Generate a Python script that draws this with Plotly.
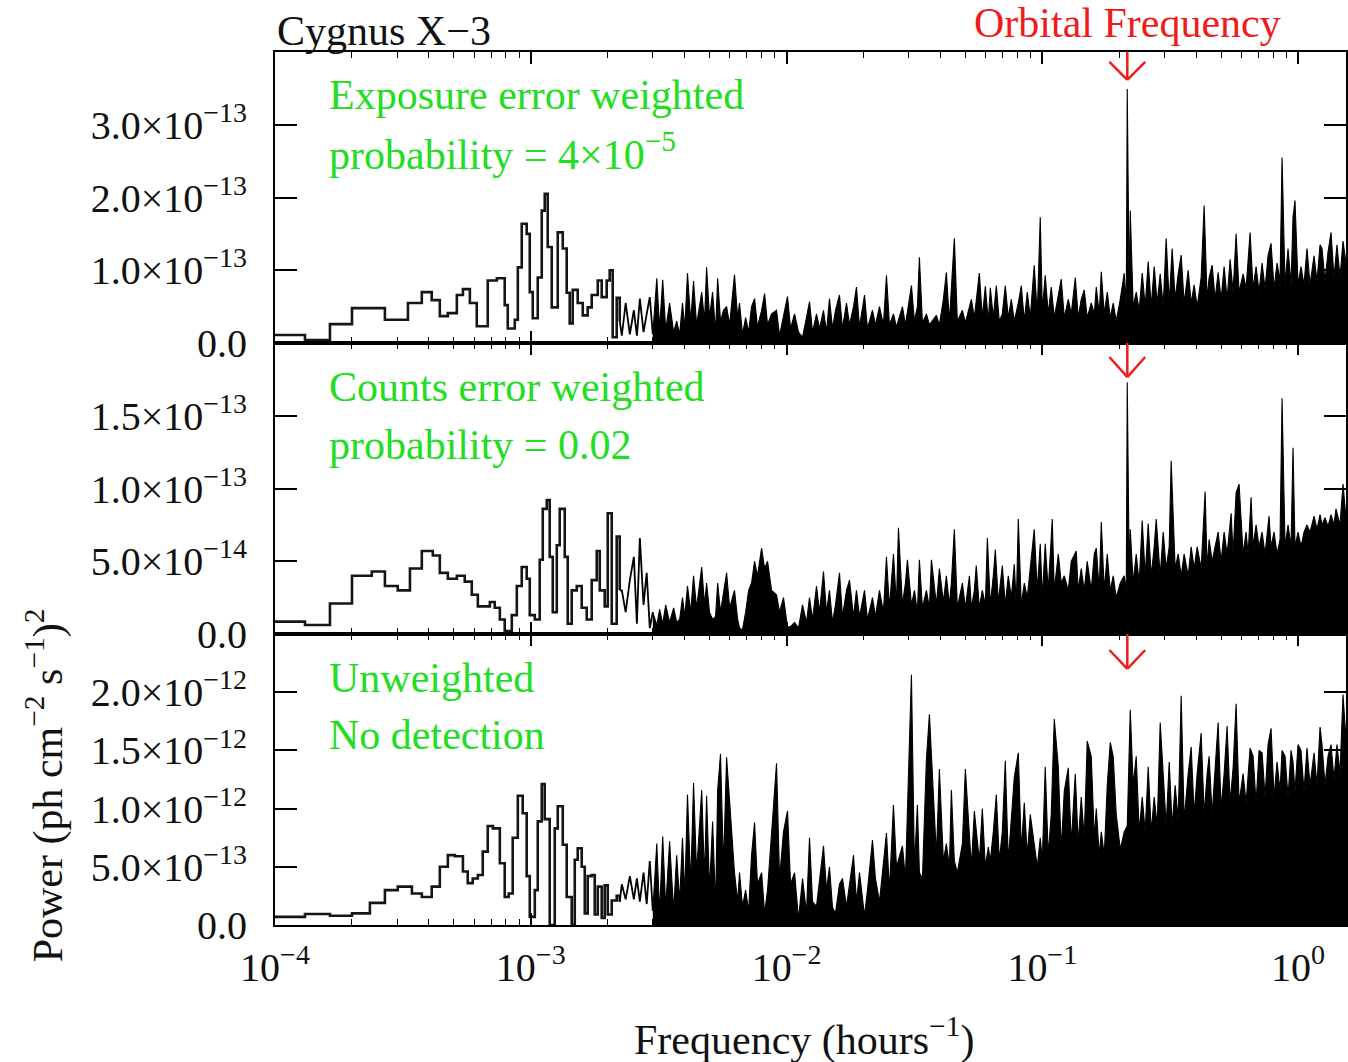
import math
import plotly.graph_objects as go

# ---------------- DATA ----------------
# Frequencies in hours^-1; powers in units of 1e-13 (top, middle) and 1e-12 (bottom)
orbital_freq = 0.215

top_step_freq = [1.00e-4, 1.31e-4, 1.64e-4, 2.00e-4, 2.69e-4, 3.31e-4, 3.75e-4, 4.10e-4, 4.41e-4, 4.74e-4,
                 5.14e-4, 5.43e-4, 5.78e-4, 6.15e-4, 6.79e-4, 7.37e-4, 7.91e-4, 8.13e-4, 8.66e-4, 8.90e-4,
                 9.22e-4, 9.64e-4, 9.91e-4, 1.018e-3, 1.065e-3, 1.104e-3, 1.134e-3, 1.165e-3, 1.208e-3, 1.275e-3,
                 1.334e-3, 1.382e-3, 1.420e-3, 1.459e-3, 1.526e-3, 1.597e-3, 1.670e-3, 1.731e-3, 1.828e-3, 1.894e-3,
                 1.981e-3, 2.035e-3, 2.091e-3, 2.168e-3, 2.228e-3]
top_step_power = [0.11, 0.04, 0.26, 0.48, 0.32, 0.55, 0.70, 0.59, 0.37, 0.41,
                  0.66, 0.74, 0.55, 0.23, 0.86, 0.89, 0.52, 0.20, 0.32, 1.04,
                  1.64, 1.50, 0.70, 0.34, 0.90, 1.82, 2.05, 1.32, 0.49, 1.52,
                  1.30, 0.69, 0.27, 0.73, 0.55, 0.38, 0.49, 0.66, 0.86, 0.63,
                  0.86, 1.00, 0.08, 0.62, 0.30]

top_fine = [
    (2.27e-3, 0.10), (2.35e-3, 0.55), (2.44e-3, 0.12), (2.53e-3, 0.45), (2.60e-3, 0.10), (2.67e-3, 0.61), (2.76e-3, 0.15), (2.84e-3, 0.40), (2.92e-3, 0.63), (3.00e-3, 0.12),
    (3.11e-3, 0.89), (3.19e-3, 0.20), (3.28e-3, 0.87), (3.37e-3, 0.18), (3.49e-3, 0.55), (3.62e-3, 0.15), (3.72e-3, 0.30), (3.82e-3, 0.12), (3.92e-3, 0.55), (4.00e-3, 0.20),
    (4.10e-3, 0.96), (4.22e-3, 0.30), (4.33e-3, 0.85), (4.45e-3, 0.25), (4.66e-3, 0.70), (4.78e-3, 0.30), (4.87e-3, 1.04), (5.00e-3, 0.35), (5.14e-3, 0.70), (5.28e-3, 0.15),
    (5.38e-3, 0.89), (5.52e-3, 0.30), (5.67e-3, 0.45), (5.83e-3, 0.50), (5.99e-3, 0.25), (6.26e-3, 0.94), (6.44e-3, 0.35), (6.55e-3, 0.55), (6.73e-3, 0.12), (6.92e-3, 0.35),
    (7.11e-3, 0.15), (7.30e-3, 0.50), (7.50e-3, 0.61), (7.70e-3, 0.22), (7.99e-3, 0.45), (8.21e-3, 0.68), (8.43e-3, 0.25), (8.74e-3, 0.40), (9.14e-3, 0.45), (9.39e-3, 0.10),
    (9.73e-3, 0.35), (1.009e-2, 0.64), (1.037e-2, 0.20), (1.075e-2, 0.40), (1.114e-2, 0.15), (1.155e-2, 0.08), (1.197e-2, 0.35), (1.230e-2, 0.57), (1.264e-2, 0.15), (1.310e-2, 0.40),
    (1.346e-2, 0.20), (1.395e-2, 0.45), (1.433e-2, 0.15), (1.472e-2, 0.61), (1.513e-2, 0.20), (1.554e-2, 0.45), (1.611e-2, 0.66), (1.655e-2, 0.20), (1.716e-2, 0.55), (1.763e-2, 0.25),
    (1.828e-2, 0.50), (1.877e-2, 0.77), (1.929e-2, 0.22), (2.018e-2, 0.66), (2.073e-2, 0.20), (2.168e-2, 0.45), (2.227e-2, 0.25), (2.309e-2, 0.50), (2.393e-2, 0.25), (2.459e-2, 0.93),
    (2.526e-2, 0.25), (2.619e-2, 0.40), (2.690e-2, 0.22), (2.839e-2, 0.50), (2.917e-2, 0.25), (3.079e-2, 0.79), (3.163e-2, 0.30), (3.249e-2, 0.50), (3.308e-2, 1.18), (3.399e-2, 0.28),
    (3.523e-2, 0.40), (3.620e-2, 0.25), (3.855e-2, 0.38), (3.960e-2, 0.25), (4.105e-2, 0.60), (4.217e-2, 0.97), (4.333e-2, 0.30), (4.411e-2, 0.70), (4.531e-2, 1.44), (4.655e-2, 0.30),
    (4.871e-2, 0.45), (5.003e-2, 0.28), (5.281e-2, 0.60), (5.425e-2, 0.35), (5.674e-2, 0.96), (5.829e-2, 0.35), (5.988e-2, 0.78), (6.152e-2, 0.30), (6.264e-2, 0.76), (6.435e-2, 0.35),
    (6.612e-2, 0.79), (6.792e-2, 0.30), (6.978e-2, 0.40), (7.168e-2, 0.79), (7.364e-2, 0.35), (7.567e-2, 0.60), (7.773e-2, 0.30), (8.058e-2, 0.55), (8.279e-2, 0.79), (8.505e-2, 0.30),
    (8.737e-2, 0.70), (8.976e-2, 0.35), (9.30e-2, 1.07), (9.56e-2, 0.40), (9.82e-2, 1.73), (0.1000, 0.45), (0.1027, 0.93), (0.1055, 0.40), (0.1084, 0.77), (0.1114, 0.35),
    (0.1155, 0.65), (0.1186, 0.88), (0.1219, 0.35), (0.1264, 0.60), (0.1298, 0.40), (0.1346, 0.90), (0.1382, 0.35), (0.1420, 0.60), (0.1459, 0.73), (0.1499, 0.35),
    (0.1554, 0.55), (0.1597, 0.40), (0.1626, 0.77), (0.1670, 0.40), (0.1701, 0.98), (0.1747, 0.40), (0.1795, 0.70), (0.1844, 0.35), (0.1894, 0.55), (0.1946, 0.30),
    (0.2018, 0.60), (0.2091, 0.96), (0.2130, 0.50), (0.2149, 3.49), (0.2188, 0.60), (0.2208, 1.82), (0.2267, 0.50), (0.2330, 0.70), (0.2393, 0.45), (0.2459, 0.96),
    (0.2526, 0.50), (0.2595, 1.12), (0.2666, 0.50), (0.2739, 1.05), (0.2814, 0.55), (0.2891, 0.95), (0.2970, 0.50), (0.3051, 1.44), (0.3135, 0.55), (0.3220, 1.30),
    (0.3308, 0.60), (0.3399, 0.95), (0.3492, 1.21), (0.3587, 0.55), (0.3719, 1.00), (0.3821, 0.55), (0.3925, 0.80), (0.4032, 0.50), (0.4180, 0.90), (0.4294, 1.89),
    (0.4411, 0.60), (0.4491, 0.90), (0.4614, 1.07), (0.4740, 0.60), (0.4871, 0.97), (0.5003, 0.60), (0.5140, 1.05), (0.5281, 0.60), (0.5425, 1.15), (0.5573, 0.70),
    (0.5726, 1.50), (0.5882, 0.70), (0.6098, 0.95), (0.6264, 0.75), (0.6494, 1.52), (0.6671, 0.75), (0.6854, 1.05), (0.7041, 0.70), (0.7234, 1.10), (0.7431, 0.75),
    (0.7634, 1.20), (0.7843, 1.37), (0.8058, 0.75), (0.8279, 1.10), (0.8505, 0.85), (0.8659, 2.55), (0.8896, 0.80), (0.9139, 1.30), (0.9389, 0.80), (0.9558, 1.73),
    (0.9730, 1.96), (1.000, 0.80), (1.027, 1.05), (1.055, 0.80), (1.084, 1.30), (1.114, 0.80), (1.155, 1.20), (1.186, 0.85), (1.219, 1.35), (1.241, 1.30),
    (1.275, 0.85), (1.310, 1.25), (1.346, 1.52), (1.382, 0.90), (1.420, 1.35), (1.459, 0.90), (1.499, 1.40), (1.540, 1.10)]

mid_step_freq = [1.00e-4, 1.31e-4, 1.64e-4, 2.00e-4, 2.39e-4, 2.69e-4, 3.02e-4, 3.37e-4, 3.75e-4, 4.14e-4,
                 4.41e-4, 4.74e-4, 5.14e-4, 5.52e-4, 5.88e-4, 6.21e-4, 6.92e-4, 7.23e-4, 7.57e-4, 7.91e-4,
                 8.43e-4, 8.82e-4, 9.22e-4, 9.64e-4, 9.91e-4, 1.037e-3, 1.084e-3, 1.114e-3, 1.155e-3, 1.186e-3,
                 1.219e-3, 1.264e-3, 1.298e-3, 1.358e-3, 1.395e-3, 1.446e-3, 1.513e-3, 1.582e-3, 1.655e-3, 1.731e-3,
                 1.811e-3, 1.861e-3, 1.946e-3, 2.00e-3, 2.073e-3, 2.130e-3, 2.168e-3, 2.228e-3]
mid_step_power = [0.085, 0.062, 0.21, 0.40, 0.43, 0.33, 0.30, 0.45, 0.57, 0.54,
                  0.42, 0.38, 0.40, 0.36, 0.27, 0.19, 0.22, 0.18, 0.10, 0.02,
                  0.13, 0.33, 0.46, 0.38, 0.13, 0.10, 0.51, 0.86, 0.92, 0.53,
                  0.15, 0.61, 0.86, 0.53, 0.07, 0.30, 0.33, 0.18, 0.10, 0.37,
                  0.57, 0.30, 0.19, 0.83, 0.07, 0.07, 0.67, 0.30]

mid_fine = [
    (2.27e-3, 0.30), (2.35e-3, 0.15), (2.44e-3, 0.37), (2.53e-3, 0.53), (2.60e-3, 0.07), (2.67e-3, 0.66), (2.76e-3, 0.20), (2.84e-3, 0.42), (2.92e-3, 0.04), (3.00e-3, 0.15),
    (3.11e-3, 0.06), (3.19e-3, 0.17), (3.28e-3, 0.07), (3.37e-3, 0.20), (3.49e-3, 0.08), (3.62e-3, 0.18), (3.72e-3, 0.08), (3.82e-3, 0.10), (3.92e-3, 0.25), (4.00e-3, 0.12),
    (4.10e-3, 0.33), (4.22e-3, 0.15), (4.33e-3, 0.40), (4.45e-3, 0.18), (4.66e-3, 0.46), (4.78e-3, 0.20), (4.87e-3, 0.35), (5.00e-3, 0.15), (5.14e-3, 0.10), (5.28e-3, 0.12),
    (5.38e-3, 0.35), (5.52e-3, 0.15), (5.67e-3, 0.30), (5.83e-3, 0.42), (5.99e-3, 0.18), (6.26e-3, 0.30), (6.44e-3, 0.10), (6.55e-3, 0.04), (6.73e-3, 0.03), (6.92e-3, 0.15),
    (7.11e-3, 0.30), (7.30e-3, 0.35), (7.50e-3, 0.50), (7.70e-3, 0.40), (7.99e-3, 0.59), (8.21e-3, 0.45), (8.43e-3, 0.50), (8.74e-3, 0.30), (9.14e-3, 0.27), (9.39e-3, 0.15),
    (9.73e-3, 0.25), (1.009e-2, 0.05), (1.037e-2, 0.05), (1.075e-2, 0.08), (1.114e-2, 0.04), (1.155e-2, 0.20), (1.197e-2, 0.08), (1.230e-2, 0.25), (1.264e-2, 0.10), (1.310e-2, 0.33),
    (1.346e-2, 0.15), (1.395e-2, 0.43), (1.433e-2, 0.15), (1.472e-2, 0.30), (1.513e-2, 0.08), (1.554e-2, 0.20), (1.611e-2, 0.42), (1.655e-2, 0.12), (1.716e-2, 0.30), (1.763e-2, 0.37),
    (1.828e-2, 0.12), (1.877e-2, 0.30), (1.929e-2, 0.12), (2.018e-2, 0.30), (2.073e-2, 0.10), (2.168e-2, 0.25), (2.227e-2, 0.12), (2.309e-2, 0.30), (2.393e-2, 0.15), (2.459e-2, 0.53),
    (2.526e-2, 0.18), (2.619e-2, 0.55), (2.690e-2, 0.20), (2.739e-2, 0.73), (2.839e-2, 0.20), (2.917e-2, 0.35), (2.970e-2, 0.51), (3.079e-2, 0.20), (3.163e-2, 0.30), (3.249e-2, 0.15),
    (3.308e-2, 0.51), (3.399e-2, 0.18), (3.523e-2, 0.30), (3.620e-2, 0.18), (3.686e-2, 0.51), (3.855e-2, 0.20), (3.960e-2, 0.45), (4.105e-2, 0.22), (4.217e-2, 0.40), (4.333e-2, 0.20),
    (4.411e-2, 0.35), (4.531e-2, 0.72), (4.655e-2, 0.18), (4.871e-2, 0.35), (5.003e-2, 0.18), (5.19e-2, 0.40), (5.281e-2, 0.18), (5.425e-2, 0.30), (5.52e-2, 0.47), (5.674e-2, 0.18),
    (5.829e-2, 0.30), (5.988e-2, 0.20), (6.10e-2, 0.66), (6.264e-2, 0.20), (6.435e-2, 0.40), (6.553e-2, 0.58), (6.731e-2, 0.22), (6.978e-2, 0.47), (7.168e-2, 0.20), (7.364e-2, 0.40),
    (7.567e-2, 0.25), (7.773e-2, 0.48), (7.914e-2, 0.20), (8.058e-2, 0.79), (8.279e-2, 0.20), (8.505e-2, 0.35), (8.737e-2, 0.25), (8.976e-2, 0.45), (9.30e-2, 0.72), (9.56e-2, 0.30),
    (9.82e-2, 0.62), (0.1000, 0.25), (0.1027, 0.62), (0.1055, 0.30), (0.1094, 0.79), (0.1114, 0.30), (0.1155, 0.55), (0.1186, 0.35), (0.1219, 0.40), (0.1264, 0.30),
    (0.1298, 0.50), (0.1358, 0.57), (0.1382, 0.30), (0.1420, 0.45), (0.1459, 0.30), (0.1499, 0.50), (0.1554, 0.30), (0.1597, 0.55), (0.1626, 0.59), (0.1670, 0.30),
    (0.1701, 0.77), (0.1747, 0.30), (0.1795, 0.55), (0.1844, 0.30), (0.1894, 0.40), (0.1946, 0.25), (0.2018, 0.35), (0.2091, 0.40), (0.2130, 0.30), (0.2149, 1.73),
    (0.2188, 0.40), (0.2208, 0.72), (0.2267, 0.35), (0.2330, 0.55), (0.2393, 0.35), (0.2459, 0.78), (0.2526, 0.40), (0.2595, 0.76), (0.2666, 0.40), (0.2739, 0.60),
    (0.2789, 0.79), (0.2891, 0.40), (0.2970, 0.70), (0.3051, 0.45), (0.3135, 0.60), (0.3191, 1.19), (0.3308, 0.45), (0.3399, 0.55), (0.3492, 0.40), (0.3587, 0.55),
    (0.3719, 0.40), (0.3821, 0.60), (0.3925, 0.45), (0.4032, 0.60), (0.4180, 0.45), (0.4333, 0.98), (0.4411, 0.45), (0.4491, 0.65), (0.4614, 0.50), (0.4740, 0.60),
    (0.4871, 0.70), (0.5003, 0.50), (0.5140, 0.70), (0.5281, 0.55), (0.5474, 0.83), (0.5573, 0.55), (0.5726, 0.97), (0.5882, 1.03), (0.6098, 0.55), (0.6264, 0.70),
    (0.6379, 0.55), (0.6553, 0.94), (0.6671, 0.60), (0.6854, 0.75), (0.7041, 0.60), (0.7234, 0.70), (0.7431, 0.55), (0.7700, 0.81), (0.7843, 0.60), (0.8058, 0.70),
    (0.8279, 0.55), (0.8505, 0.65), (0.8659, 1.62), (0.8896, 0.60), (0.9139, 0.75), (0.9389, 0.60), (0.9558, 1.28), (0.9730, 0.60), (1.000, 0.70), (1.027, 0.60),
    (1.055, 0.70), (1.084, 0.75), (1.114, 0.70), (1.155, 0.81), (1.186, 0.72), (1.219, 0.82), (1.241, 0.75), (1.275, 0.80), (1.310, 0.74), (1.346, 0.82),
    (1.382, 0.75), (1.407, 0.86), (1.459, 0.75), (1.499, 1.03), (1.540, 0.80)]

bot_step_freq = [1.00e-4, 1.31e-4, 1.64e-4, 2.00e-4, 2.35e-4, 2.69e-4, 3.02e-4, 3.43e-4, 3.75e-4, 4.10e-4,
                 4.41e-4, 4.74e-4, 5.05e-4, 5.43e-4, 5.67e-4, 5.93e-4, 6.21e-4, 6.49e-4, 6.79e-4, 7.11e-4,
                 7.57e-4, 7.91e-4, 8.20e-4, 8.50e-4, 8.90e-4, 9.30e-4, 9.64e-4, 9.91e-4, 1.037e-3, 1.065e-3,
                 1.104e-3, 1.134e-3, 1.186e-3, 1.241e-3, 1.275e-3, 1.334e-3, 1.382e-3, 1.446e-3, 1.486e-3, 1.526e-3,
                 1.582e-3, 1.626e-3, 1.670e-3, 1.731e-3, 1.779e-3, 1.828e-3, 1.894e-3, 1.946e-3, 2.00e-3, 2.073e-3,
                 2.168e-3, 2.228e-3]
bot_step_power = [0.07, 0.095, 0.08, 0.10, 0.19, 0.30, 0.33, 0.27, 0.24, 0.33,
                  0.50, 0.60, 0.59, 0.46, 0.36, 0.40, 0.43, 0.63, 0.85, 0.83,
                  0.53, 0.24, 0.27, 0.75, 1.11, 0.96, 0.42, 0.07, 0.30, 0.89,
                  1.21, 0.91, 0.00, 0.83, 1.02, 0.69, 0.24, 0.00, 0.56, 0.66,
                  0.50, 0.10, 0.42, 0.43, 0.09, 0.33, 0.06, 0.34, 0.09, 0.21,
                  0.25, 0.20]

bot_fine = [
    (2.27e-3, 0.35), (2.35e-3, 0.22), (2.44e-3, 0.42), (2.53e-3, 0.22), (2.60e-3, 0.40), (2.67e-3, 0.20), (2.76e-3, 0.45), (2.84e-3, 0.18), (2.92e-3, 0.55), (3.00e-3, 0.12),
    (3.11e-3, 0.70), (3.19e-3, 0.10), (3.28e-3, 0.76), (3.37e-3, 0.15), (3.49e-3, 0.72), (3.62e-3, 0.12), (3.72e-3, 0.60), (3.82e-3, 0.20), (3.92e-3, 0.75), (4.00e-3, 0.25),
    (4.10e-3, 1.12), (4.22e-3, 0.35), (4.33e-3, 1.22), (4.45e-3, 0.45), (4.66e-3, 1.16), (4.78e-3, 0.40), (4.87e-3, 1.11), (5.00e-3, 0.30), (5.14e-3, 0.89), (5.28e-3, 0.16),
    (5.38e-3, 1.16), (5.52e-3, 1.47), (5.67e-3, 0.50), (5.83e-3, 1.44), (5.99e-3, 1.08), (6.26e-3, 0.45), (6.44e-3, 0.20), (6.55e-3, 0.45), (6.73e-3, 0.16), (6.92e-3, 0.30),
    (7.11e-3, 0.12), (7.30e-3, 0.60), (7.50e-3, 0.88), (7.70e-3, 0.35), (7.99e-3, 0.45), (8.21e-3, 0.10), (8.43e-3, 0.30), (8.74e-3, 0.79), (9.14e-3, 1.39), (9.39e-3, 0.40),
    (9.73e-3, 0.80), (1.009e-2, 0.98), (1.037e-2, 0.35), (1.075e-2, 0.45), (1.114e-2, 0.05), (1.155e-2, 0.40), (1.197e-2, 0.10), (1.230e-2, 0.75), (1.264e-2, 0.20), (1.310e-2, 0.16),
    (1.346e-2, 0.40), (1.395e-2, 0.68), (1.433e-2, 0.30), (1.472e-2, 0.50), (1.513e-2, 0.15), (1.554e-2, 0.10), (1.611e-2, 0.35), (1.655e-2, 0.40), (1.716e-2, 0.16), (1.763e-2, 0.35),
    (1.828e-2, 0.60), (1.877e-2, 0.20), (1.929e-2, 0.45), (2.018e-2, 0.08), (2.073e-2, 0.30), (2.168e-2, 0.73), (2.227e-2, 0.40), (2.309e-2, 0.20), (2.393e-2, 0.55), (2.459e-2, 0.79),
    (2.526e-2, 0.30), (2.619e-2, 1.03), (2.690e-2, 0.50), (2.839e-2, 0.68), (2.917e-2, 0.40), (3.079e-2, 2.15), (3.163e-2, 0.50), (3.249e-2, 1.03), (3.308e-2, 0.45), (3.399e-2, 0.40),
    (3.523e-2, 1.42), (3.620e-2, 1.81), (3.855e-2, 0.60), (3.960e-2, 1.34), (4.105e-2, 0.55), (4.217e-2, 0.70), (4.333e-2, 0.50), (4.411e-2, 1.16), (4.531e-2, 0.55), (4.655e-2, 0.45),
    (4.871e-2, 0.70), (5.003e-2, 1.34), (5.281e-2, 0.50), (5.425e-2, 0.98), (5.674e-2, 0.55), (5.829e-2, 1.00), (5.988e-2, 0.50), (6.152e-2, 0.67), (6.264e-2, 0.55), (6.435e-2, 0.80),
    (6.612e-2, 1.12), (6.792e-2, 0.55), (6.978e-2, 0.80), (7.168e-2, 1.41), (7.364e-2, 0.55), (7.567e-2, 0.90), (7.773e-2, 1.27), (8.058e-2, 1.48), (8.279e-2, 0.65), (8.505e-2, 1.05),
    (8.737e-2, 0.60), (8.976e-2, 0.95), (9.30e-2, 0.70), (9.56e-2, 0.50), (9.82e-2, 0.75), (0.1000, 0.55), (0.1027, 1.36), (0.1055, 0.60), (0.1084, 0.95), (0.1114, 1.77),
    (0.1155, 1.36), (0.1186, 0.65), (0.1219, 1.15), (0.1264, 1.35), (0.1298, 0.70), (0.1346, 1.30), (0.1382, 0.70), (0.1420, 1.10), (0.1459, 0.75), (0.1499, 1.58),
    (0.1554, 1.45), (0.1597, 0.75), (0.1626, 1.00), (0.1670, 0.60), (0.1701, 0.80), (0.1747, 0.60), (0.1795, 1.20), (0.1844, 1.57), (0.1894, 1.45), (0.1946, 0.95),
    (0.2018, 0.65), (0.2091, 0.80), (0.2149, 0.85), (0.2208, 1.85), (0.2267, 1.20), (0.2330, 1.45), (0.2393, 0.80), (0.2459, 1.10), (0.2526, 0.80), (0.2595, 1.36),
    (0.2666, 0.80), (0.2739, 1.10), (0.2814, 0.85), (0.2891, 1.74), (0.2970, 1.30), (0.3051, 0.85), (0.3135, 1.40), (0.3220, 0.85), (0.3308, 1.20), (0.3399, 0.90),
    (0.3492, 1.97), (0.3587, 0.90), (0.3719, 1.30), (0.3821, 1.53), (0.3925, 0.95), (0.4032, 1.30), (0.4180, 1.65), (0.4294, 0.95), (0.4411, 1.30), (0.4491, 1.45),
    (0.4614, 0.95), (0.4740, 1.35), (0.4871, 1.74), (0.5003, 1.00), (0.5140, 1.30), (0.5281, 1.71), (0.5425, 1.05), (0.5573, 1.35), (0.5726, 1.90), (0.5882, 1.05),
    (0.6098, 1.30), (0.6264, 1.05), (0.6494, 1.52), (0.6671, 1.45), (0.6854, 1.05), (0.7041, 1.50), (0.7234, 1.48), (0.7431, 1.10), (0.7634, 1.55), (0.7843, 1.69),
    (0.8058, 1.10), (0.8279, 1.40), (0.8505, 1.15), (0.8659, 1.50), (0.8896, 1.45), (0.9139, 1.10), (0.9389, 1.50), (0.9558, 1.40), (0.9730, 1.15), (1.000, 1.55),
    (1.027, 1.50), (1.055, 1.15), (1.084, 1.52), (1.114, 1.20), (1.155, 1.48), (1.186, 1.20), (1.219, 1.70), (1.241, 1.55), (1.275, 1.20), (1.310, 1.45),
    (1.346, 1.55), (1.382, 1.25), (1.420, 1.55), (1.459, 1.30), (1.499, 1.98), (1.540, 1.60)]

x_tick_vals = [1e-4, 1e-3, 1e-2, 1e-1, 1.0]
x_tick_text = ["10<sup>−4</sup>", "10<sup>−3</sup>", "10<sup>−2</sup>", "10<sup>−1</sup>", "10<sup>0</sup>"]

top_tick_vals = [0.0, 1e-13, 2e-13, 3e-13]
top_tick_text = ["0.0", "1.0×10<sup>−13</sup>", "2.0×10<sup>−13</sup>", "3.0×10<sup>−13</sup>"]
mid_tick_vals = [0.0, 5e-14, 1e-13, 1.5e-13]
mid_tick_text = ["0.0", "5.0×10<sup>−14</sup>", "1.0×10<sup>−13</sup>", "1.5×10<sup>−13</sup>"]
bot_tick_vals = [0.0, 5e-13, 1e-12, 1.5e-12, 2e-12]
bot_tick_text = ["0.0", "5.0×10<sup>−13</sup>", "1.0×10<sup>−12</sup>", "1.5×10<sup>−12</sup>", "2.0×10<sup>−12</sup>"]

# ---------------- FIGURE ----------------
XMIN = -4.0
XMAX = math.log10(1.54)
FILL_FROM = 3.0e-3          # where the periodogram becomes a dense, solid band
FONT = "Liberation Serif"
GREEN = "#22dd22"
RED = "#ee1c1c"
INK = "#111111"

fig = go.Figure()

panels = [
    (top_step_freq, top_step_power, top_fine, 1e-13, "x", "y"),
    (mid_step_freq, mid_step_power, mid_fine, 1e-13, "x2", "y2"),
    (bot_step_freq, bot_step_power, bot_fine, 1e-12, "x3", "y3"),
]
for sf, sp, fine, unit, xa, ya in panels:
    fig.add_trace(go.Scatter(
        x=sf, y=[v * unit for v in sp], mode="lines",
        line=dict(color="#151515", width=2.6, shape="hv"),
        xaxis=xa, yaxis=ya, showlegend=False, hoverinfo="skip"))
    sparse = [(sf[-1], sp[-1])] + [p for p in fine if p[0] <= FILL_FROM]
    dense = [p for p in fine if p[0] >= FILL_FROM]
    fig.add_trace(go.Scatter(
        x=[p[0] for p in sparse], y=[p[1] * unit for p in sparse], mode="lines",
        line=dict(color="black", width=1.8),
        xaxis=xa, yaxis=ya, showlegend=False, hoverinfo="skip"))
    fig.add_trace(go.Scatter(
        x=[p[0] for p in dense], y=[p[1] * unit for p in dense], mode="lines",
        line=dict(color="black", width=1.1), fill="tozeroy", fillcolor="black",
        xaxis=xa, yaxis=ya, showlegend=False, hoverinfo="skip"))

minor_vals = [k * 10.0 ** d for d in range(-4, 1) for k in range(2, 10)]

def xaxis_cfg(anchor, labels):
    return dict(
        type="log", range=[XMIN, XMAX], domain=[0, 1], anchor=anchor,
        showgrid=False, zeroline=False, showline=True, linecolor="black", linewidth=2,
        mirror="ticks", ticks="inside", ticklen=12, tickwidth=1.5, tickcolor="black",
        tickmode="array", tickvals=x_tick_vals, ticktext=x_tick_text,
        showticklabels=labels, ticklabelstandoff=6,
        tickfont=dict(family=FONT, size=40, color=INK),
        minor=dict(ticks="inside", ticklen=6, tickwidth=1.2, tickcolor="black",
                   tickmode="array", tickvals=minor_vals),
    )

def yaxis_cfg(anchor, dom, rng, vals, text):
    return dict(
        domain=dom, range=rng, anchor=anchor,
        showgrid=False, zeroline=False, showline=True, linecolor="black", linewidth=2,
        mirror="ticks", ticks="inside", ticklen=22, tickwidth=1.5, tickcolor="black",
        tickmode="array", tickvals=vals, ticktext=text, ticklabelstandoff=18,
        tickfont=dict(family=FONT, size=40, color=INK),
    )

fig.update_layout(
    width=1348, height=1062,
    margin=dict(l=275, r=0, t=52, b=137),
    paper_bgcolor="white", plot_bgcolor="white",
    font=dict(family=FONT, color=INK),
    xaxis=xaxis_cfg("y", False),
    xaxis2=xaxis_cfg("y2", False),
    xaxis3=xaxis_cfg("y3", True),
    yaxis=yaxis_cfg("x", [2 / 3, 1], [0, 4e-13], top_tick_vals, top_tick_text),
    yaxis2=yaxis_cfg("x2", [1 / 3, 2 / 3], [0, 2e-13], mid_tick_vals, mid_tick_text),
    yaxis3=yaxis_cfg("x3", [0, 1 / 3], [0, 2.5e-12], bot_tick_vals, bot_tick_text),
)

# orbital-frequency arrows (domain coordinates)
ox = (math.log10(orbital_freq) - XMIN) / (XMAX - XMIN)
arm = 0.07 / (XMAX - XMIN)
arrow_geom = [("x", "y", 0.904, 0.966), ("x2", "y2", 0.883, 0.952), ("x3", "y3", 0.880, 0.945)]
shapes = []
for xa, ya, tip, wing in arrow_geom:
    ref = dict(xref=xa + " domain", yref=ya + " domain", line=dict(color=RED, width=2.5))
    shapes.append(dict(type="line", x0=ox, x1=ox, y0=1.0, y1=tip, **ref))
    shapes.append(dict(type="line", x0=ox - arm, x1=ox, y0=wing, y1=tip, **ref))
    shapes.append(dict(type="line", x0=ox + arm, x1=ox, y0=wing, y1=tip, **ref))
fig.update_layout(shapes=shapes)

def ann(text, x, y, color=INK, size=42, xanchor="left", yanchor="bottom", angle=0):
    return dict(text=text, x=x, y=y, xref="paper", yref="paper", showarrow=False,
                xanchor=xanchor, yanchor=yanchor, textangle=angle,
                font=dict(family=FONT, size=size, color=color))

tx = (327 - 275) / 1073
annotations = [
    ann("Cygnus X−3", 0.0, 0.9954),
    ann("Orbital Frequency", ox, 1.0046, color=RED, xanchor="center"),
    ann("Exposure error weighted", tx, 0.9221, color=GREEN),
    ann("probability = 4×10<sup>−5</sup>", tx, 0.8534, color=GREEN),
    ann("Counts error weighted", tx, 0.5876, color=GREEN),
    ann("probability = 0.02", tx, 0.5212, color=GREEN),
    ann("Unweighted", tx, 0.2543, color=GREEN),
    ann("No detection", tx, 0.1890, color=GREEN),
    ann("Power (ph cm<sup>−2</sup> s<sup>−1</sup>)<sup>2</sup>", -0.2144, 0.1604,
        xanchor="center", yanchor="middle", angle=-90),
    ann("Frequency (hours<sup>−1</sup>)", 0.4939, -0.1283, xanchor="center", yanchor="middle"),
]
fig.update_layout(annotations=annotations)

fig.write_html("out.html")
